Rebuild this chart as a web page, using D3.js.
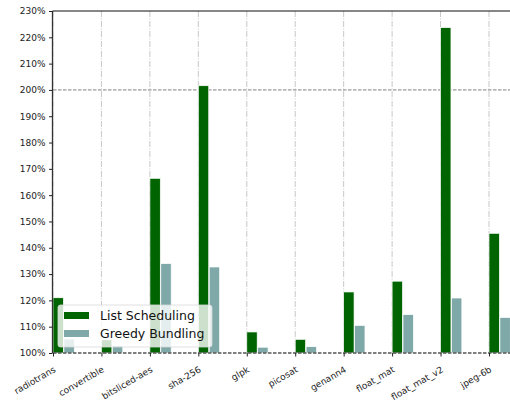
<!DOCTYPE html>
<html><head><meta charset="utf-8">
<script src="https://cdn.jsdelivr.net/npm/d3@7"></script>
<style>body{margin:0;background:#fff;} svg{display:block;}</style>
</head><body>
<svg id="chart" width="510" height="401"></svg>
<script>
const categories = ["radiotrans","convertible","bitsliced-aes","sha-256","glpk","picosat","genann4","float_mat","float_mat_v2","jpeg-6b"];
const listScheduling = [121.0, 105.0, 166.4, 201.6, 108.0, 105.2, 123.2, 127.3, 223.7, 145.5];
const greedyBundling = [105.3, 102.8, 134.0, 132.7, 102.2, 102.4, 110.5, 114.6, 120.9, 113.5];
const seriesNames = ["List Scheduling","Greedy Bundling"];
const seriesColors = ["#006400","#7fa8a8"];
const yTicks = [100,110,120,130,140,150,160,170,180,190,200,210,220,230];

(function(){
const svg = d3.select("#chart");
const pL = 53, pR = 510.3, pT = 11, pB = 353;
const x = d3.scaleLinear().domain([0, 9.44]).range([pL, pR]);
const y = d3.scaleLinear().domain([100, 230]).range([pB, pT]);
const font = "DejaVu Sans, sans-serif";

// vertical gridlines
svg.append("g").selectAll("line").data(categories).join("line")
  .attr("x1",(d,i)=>x(i)).attr("x2",(d,i)=>x(i))
  .attr("y1",pT).attr("y2",pB)
  .attr("stroke","#c8c8c8").attr("stroke-width",1)
  .attr("stroke-dasharray","6,1.5,1,1.5");

// 200% line
svg.append("line").attr("x1",pL).attr("x2",pR).attr("y1",y(200)).attr("y2",y(200))
  .attr("stroke","#808080").attr("stroke-width",1).attr("stroke-dasharray","3.5,1.5");

const bw = 0.215, off = 0.225;
const bars = svg.append("g");
[listScheduling, greedyBundling].forEach((vals, s) => {
  bars.selectAll(null).data(vals).join("rect")
    .attr("x",(d,i)=>x(i + s*off))
    .attr("width", x(bw)-x(0))
    .attr("y", d=>y(d))
    .attr("height", d=>y(100)-y(d))
    .attr("fill", seriesColors[s])
    .attr("stroke","#fff").attr("stroke-width",0.7);
});

// spines
svg.append("line").attr("x1",pL-0.5).attr("x2",pR).attr("y1",pT).attr("y2",pT).attr("stroke","#111").attr("stroke-width",1.2);
svg.append("line").attr("x1",pL-0.5).attr("x2",pL-0.5).attr("y1",pT).attr("y2",pB).attr("stroke","#333").attr("stroke-width",1.3);
svg.append("line").attr("x1",pL).attr("x2",pR).attr("y1",pB).attr("y2",pB).attr("stroke","#555").attr("stroke-width",1.3).attr("stroke-dasharray","3.5,1.5");

// y axis
const yAxis = d3.axisLeft(y).tickValues(yTicks).tickFormat(d=>d+"%").tickSize(3.5).tickPadding(3.5);
const gy = svg.append("g").attr("transform",`translate(${pL-0.5},0)`).call(yAxis);
gy.select(".domain").remove();
gy.selectAll("text").attr("font-family",font).attr("font-size",9).attr("fill","#222");
gy.selectAll("line").attr("stroke","#222");

// x axis
const xAxis = d3.axisBottom(x).tickValues(d3.range(categories.length)).tickFormat(i=>categories[i]).tickSize(3.5).tickPadding(3);
const gx = svg.append("g").attr("transform",`translate(0,${pB})`).call(xAxis);
gx.select(".domain").remove();
gx.selectAll("line").attr("stroke","#222");
gx.selectAll("text").attr("font-family",font).attr("font-size",9).attr("fill","#222")
  .attr("text-anchor","end").attr("dy","0.35em")
  .attr("transform","translate(-2,10) rotate(-30)");

// legend
const lg = svg.append("g");
lg.append("rect").attr("x",58).attr("y",305).attr("width",154).attr("height",42).attr("rx",2.5)
  .attr("fill","#fff").attr("fill-opacity",0.8).attr("stroke","#d8d8d8").attr("stroke-width",0.8);
seriesNames.forEach((n,s)=>{
  const yy = 312 + s*18;
  lg.append("rect").attr("x",64).attr("y",yy).attr("width",25).attr("height",7).attr("fill",seriesColors[s]);
  lg.append("text").attr("x",100).attr("y",yy+3.5).attr("dy","0.36em").attr("font-family",font).attr("font-size",12.5).attr("fill","#111").text(n);
});
})();
</script>
</body></html>
